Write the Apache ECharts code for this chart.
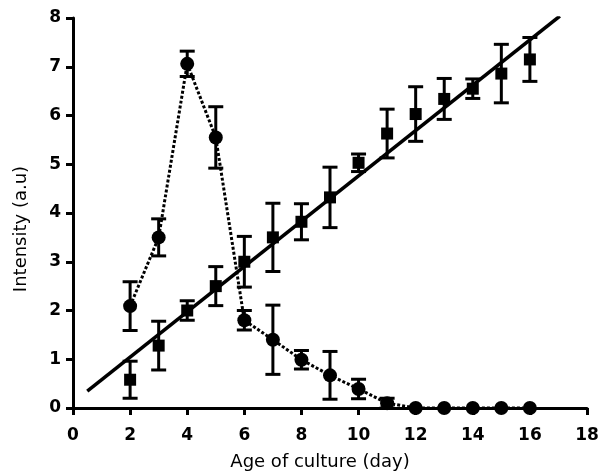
<!DOCTYPE html>
<html>
<head>
<meta charset="utf-8">
<script src="https://cdn.jsdelivr.net/npm/echarts@6/dist/echarts.min.js"></script>
<style>
  html, body { margin: 0; padding: 0; background: #fff; }
  #chart { width: 608px; height: 476px; }
</style>
</head>
<body>
<div id="chart"></div>
<script>
// days of culture
var days = [2, 3, 4, 5, 6, 7, 8, 9, 10, 11, 12, 13, 14, 15, 16];

// square series (mean, +/- error)
var squareMean = [0.58, 1.28, 2.0, 2.5, 3.0, 3.5, 3.82, 4.32, 5.03, 5.63, 6.03, 6.34, 6.55, 6.86, 7.15];
var squareErr  = [0.38, 0.5, 0.2, 0.4, 0.52, 0.7, 0.37, 0.62, 0.18, 0.5, 0.56, 0.42, 0.2, 0.6, 0.45];

// circle series (mean, +/- error)
var circleMean = [2.09, 3.5, 7.06, 5.55, 1.8, 1.4, 0.99, 0.67, 0.39, 0.1, 0, 0, 0, 0, 0];
var circleErr  = [0.5, 0.38, 0.26, 0.63, 0.2, 0.71, 0.19, 0.49, 0.2, 0.1, 0, 0, 0, 0, 0];

// fitted straight line through the squares (end points)
var fitLine = [[0.5, 0.345], [17.05, 8.04]];

var xTicks = [0, 2, 4, 6, 8, 10, 12, 14, 16, 18];
var yTicks = [0, 1, 2, 3, 4, 5, 6, 7, 8];

var chart = echarts.init(document.getElementById('chart'));

function pairs(xs, ys) {
    var out = [];
    for (var i = 0; i < xs.length; i++) {
        out.push([xs[i], ys[i]]);
    }
    return out;
}

function errData(xs, ys, es) {
    var out = [];
    for (var i = 0; i < xs.length; i++) {
        if (es[i] > 0) {
            out.push([xs[i], ys[i] - es[i], ys[i] + es[i]]);
        }
    }
    return out;
}

// error bar with caps
function renderErr(params, api) {
    var x = api.value(0);
    var lo = api.coord([x, api.value(1)]);
    var hi = api.coord([x, api.value(2)]);
    var half = 7.5;
    var style = { stroke: '#000', lineWidth: 3 };
    return {
        type: 'group',
        children: [
            { type: 'line', shape: { x1: lo[0], y1: lo[1], x2: hi[0], y2: hi[1] }, style: style },
            { type: 'line', shape: { x1: hi[0] - half, y1: hi[1], x2: hi[0] + half, y2: hi[1] }, style: style },
            { type: 'line', shape: { x1: lo[0] - half, y1: lo[1], x2: lo[0] + half, y2: lo[1] }, style: style }
        ]
    };
}

var tickFont = {
    color: '#000',
    fontFamily: 'DejaVu Sans, sans-serif',
    fontWeight: 'bold',
    fontSize: 17
};

var nameFont = {
    color: '#000',
    fontFamily: 'DejaVu Sans, sans-serif',
    fontSize: 18
};

var option = {
    animation: false,
    backgroundColor: '#fff',
    grid: {
        left: 73,
        right: 21,
        top: 18,
        bottom: 62,
        containLabel: false
    },
    xAxis: {
        type: 'value',
        min: xTicks[0],
        max: xTicks[xTicks.length - 1],
        interval: 2,
        name: 'Age of culture (day)',
        nameLocation: 'middle',
        nameGap: 45,
        nameTextStyle: Object.assign({ padding: [0, 20, 0, 0] }, nameFont),
        axisLine: { onZero: false, lineStyle: { color: '#000', width: 3 } },
        axisTick: { show: true, inside: false, length: 7, lineStyle: { color: '#000', width: 3 } },
        axisLabel: Object.assign({ margin: 19 }, tickFont),
        splitLine: { show: false }
    },
    yAxis: {
        type: 'value',
        min: yTicks[0],
        max: yTicks[yTicks.length - 1],
        interval: 1,
        name: 'Intensity (a.u)',
        nameLocation: 'middle',
        nameGap: 43,
        nameTextStyle: Object.assign({ padding: [0, 32, 0, 0] }, nameFont),
        axisLine: { show: true, onZero: false, lineStyle: { color: '#000', width: 3 } },
        axisTick: { show: true, inside: false, length: 7, lineStyle: { color: '#000', width: 3 } },
        axisLabel: Object.assign({ margin: 12 }, tickFont),
        splitLine: { show: false }
    },
    series: [
        {
            name: 'fit',
            type: 'line',
            data: fitLine,
            showSymbol: false,
            symbol: 'none',
            lineStyle: { color: '#000', width: 3.5 },
            z: 2
        },
        {
            name: 'circleErr',
            type: 'custom',
            renderItem: renderErr,
            data: errData(days, circleMean, circleErr),
            encode: { x: 0, y: [1, 2] },
            z: 3
        },
        {
            name: 'squareErr',
            type: 'custom',
            renderItem: renderErr,
            data: errData(days, squareMean, squareErr),
            encode: { x: 0, y: [1, 2] },
            z: 3
        },
        {
            name: 'circles',
            type: 'line',
            data: pairs(days, circleMean),
            symbol: 'circle',
            symbolSize: 14,
            itemStyle: { color: '#000', opacity: 1 },
            lineStyle: { color: '#000', width: 3, type: [3, 2] },
            z: 4
        },
        {
            name: 'squares',
            type: 'scatter',
            data: pairs(days, squareMean),
            symbol: 'rect',
            symbolSize: 12,
            itemStyle: { color: '#000', opacity: 1 },
            z: 4
        }
    ]
};

chart.setOption(option);
</script>
</body>
</html>
